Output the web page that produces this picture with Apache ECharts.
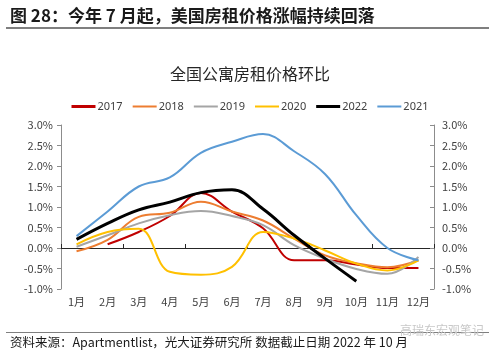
<!DOCTYPE html>
<html>
<head>
<meta charset="utf-8">
<script src="https://cdn.jsdelivr.net/npm/echarts@6/dist/echarts.min.js"></script>
<style>
  html, body { margin: 0; padding: 0; background: #fff; }
  #chart { width: 500px; height: 353px; }
</style>
</head>
<body>
<div id="chart"></div>
<script>
// months
const months = ['1月', '2月', '3月', '4月', '5月', '6月', '7月', '8月', '9月', '10月', '11月', '12月'];

// monthly change, %
const y2017 = [null, 0.09, 0.39, 0.78, 1.34, 0.89, 0.48, -0.30, -0.30, -0.40, -0.49, -0.49];
const y2018 = [-0.08, 0.20, 0.76, 0.86, 1.13, 0.89, 0.67, 0.23, -0.18, -0.37, -0.47, -0.30];
const y2019 = [0.03, 0.31, 0.60, 0.80, 0.90, 0.78, 0.56, 0.07, -0.26, -0.51, -0.63, -0.22];
const y2020 = [0.09, 0.39, 0.47, -0.58, -0.65, -0.46, 0.39, 0.23, -0.06, -0.38, -0.55, -0.30];
const y2022 = [0.21, 0.60, 0.93, 1.12, 1.35, 1.42, 0.95, 0.31, -0.26, -0.81, null, null];
const y2021 = [0.29, 0.89, 1.50, 1.72, 2.32, 2.59, 2.78, 2.36, 1.80, 0.80, 0.00, -0.30];

const yTicks = { min: -1, max: 3, step: 0.5 };

const chart = echarts.init(document.getElementById('chart'), null, { renderer: 'canvas' });

const cjk = '"Noto Sans CJK SC", "Noto Sans", sans-serif';

// thin bar used as legend marker (line look, no dot)
const barIcon = h => 'path://M0,0 L24,0 L24,' + h + ' L0,' + h + ' Z';

function line(name, data, color, width) {
  return {
    name: name,
    type: 'line',
    data: data,
    smooth: 0.4,
    symbol: 'none',
    connectNulls: false,
    xAxisIndex: 0,
    yAxisIndex: 0,
    lineStyle: { color: color, width: width },
    itemStyle: { color: color },
    z: name === '2022' ? 5 : 3
  };
}

const yAxisBase = {
  type: 'value',
  min: yTicks.min,
  max: yTicks.max,
  interval: yTicks.step,
  splitLine: { show: false },
  axisLine: { show: true, lineStyle: { color: '#8c8c8c', width: 1 } },
  axisLabel: {
    color: '#404040',
    fontSize: 11,
    fontFamily: cjk,
    margin: 8,
    formatter: v => v.toFixed(1) + '%'
  }
};

const option = {
  animation: false,
  backgroundColor: '#fff',
  title: [
    {
      text: '图 28：今年 7 月起，美国房租价格涨幅持续回落',
      left: 5, top: 2,
      textStyle: { fontSize: 17, fontWeight: 'bold', color: '#1a1a1a', fontFamily: cjk }
    },
    {
      text: '全国公寓房租价格环比',
      left: 'center', top: 61,
      textStyle: { fontSize: 16, fontWeight: 'normal', color: '#262626', fontFamily: cjk }
    },
    {
      text: '资料来源：Apartmentlist，光大证券研究所 数据截止日期 2022 年 10 月',
      left: 5, top: 331,
      textStyle: { fontSize: 12.5, fontWeight: 'normal', color: '#1a1a1a', fontFamily: cjk }
    }
  ],
  graphic: [
    { type: 'rect', shape: { x: 6, y: 27, width: 483, height: 2 }, style: { fill: '#7f7f7f' }, silent: true },
    { type: 'rect', shape: { x: 6, y: 332, width: 483, height: 1 }, style: { fill: '#7f7f7f' }, silent: true },
    {
      type: 'text', left: 400, top: 324,
      style: { text: '高瑞东宏观笔记', fill: '#c8c8c8', fontSize: 12, fontFamily: cjk },
      silent: true
    }
  ],
  legend: {
    top: 96,
    left: 'center',
    itemWidth: 24,
    itemHeight: 3,
    itemGap: 10,
    data: [
      { name: '2017', icon: barIcon(3) },
      { name: '2018', icon: barIcon(2) },
      { name: '2019', icon: barIcon(2) },
      { name: '2020', icon: barIcon(2) },
      { name: '2022', icon: barIcon(3) },
      { name: '2021', icon: barIcon(2) }
    ],
    textStyle: { color: '#404040', fontSize: 11, fontFamily: '"Noto Sans", sans-serif', padding: [0, 0, 0, -3] }
  },
  grid: { left: 61, right: 66, top: 125, bottom: 64 },
  xAxis: [
    {
      type: 'category',
      data: months,
      boundaryGap: true,
      axisLine: { show: true, onZero: true, lineStyle: { color: '#262626', width: 1 } },
      axisTick: { show: true, inside: true, length: 4, lineStyle: { color: '#262626' } },
      axisLabel: { show: false }
    },
    {
      type: 'category',
      data: months,
      position: 'bottom',
      boundaryGap: true,
      axisLine: { show: false },
      axisTick: { show: false },
      axisLabel: { color: '#404040', fontSize: 11, fontFamily: cjk, margin: 7, interval: 0 }
    }
  ],
  yAxis: [
    Object.assign({}, yAxisBase, {
      position: 'left',
      axisTick: { show: true, inside: false, length: 4, lineStyle: { color: '#8c8c8c' } }
    }),
    Object.assign({}, yAxisBase, {
      position: 'right',
      axisTick: { show: true, inside: true, length: 4, lineStyle: { color: '#8c8c8c' } }
    })
  ],
  series: [
    line('2017', y2017, '#C00000', 2),
    line('2018', y2018, '#ED7D31', 2),
    line('2019', y2019, '#A5A5A5', 2),
    line('2020', y2020, '#FFC000', 2),
    line('2022', y2022, '#000000', 3),
    line('2021', y2021, '#5B9BD5', 2)
  ]
};

chart.setOption(option);
</script>
</body>
</html>
